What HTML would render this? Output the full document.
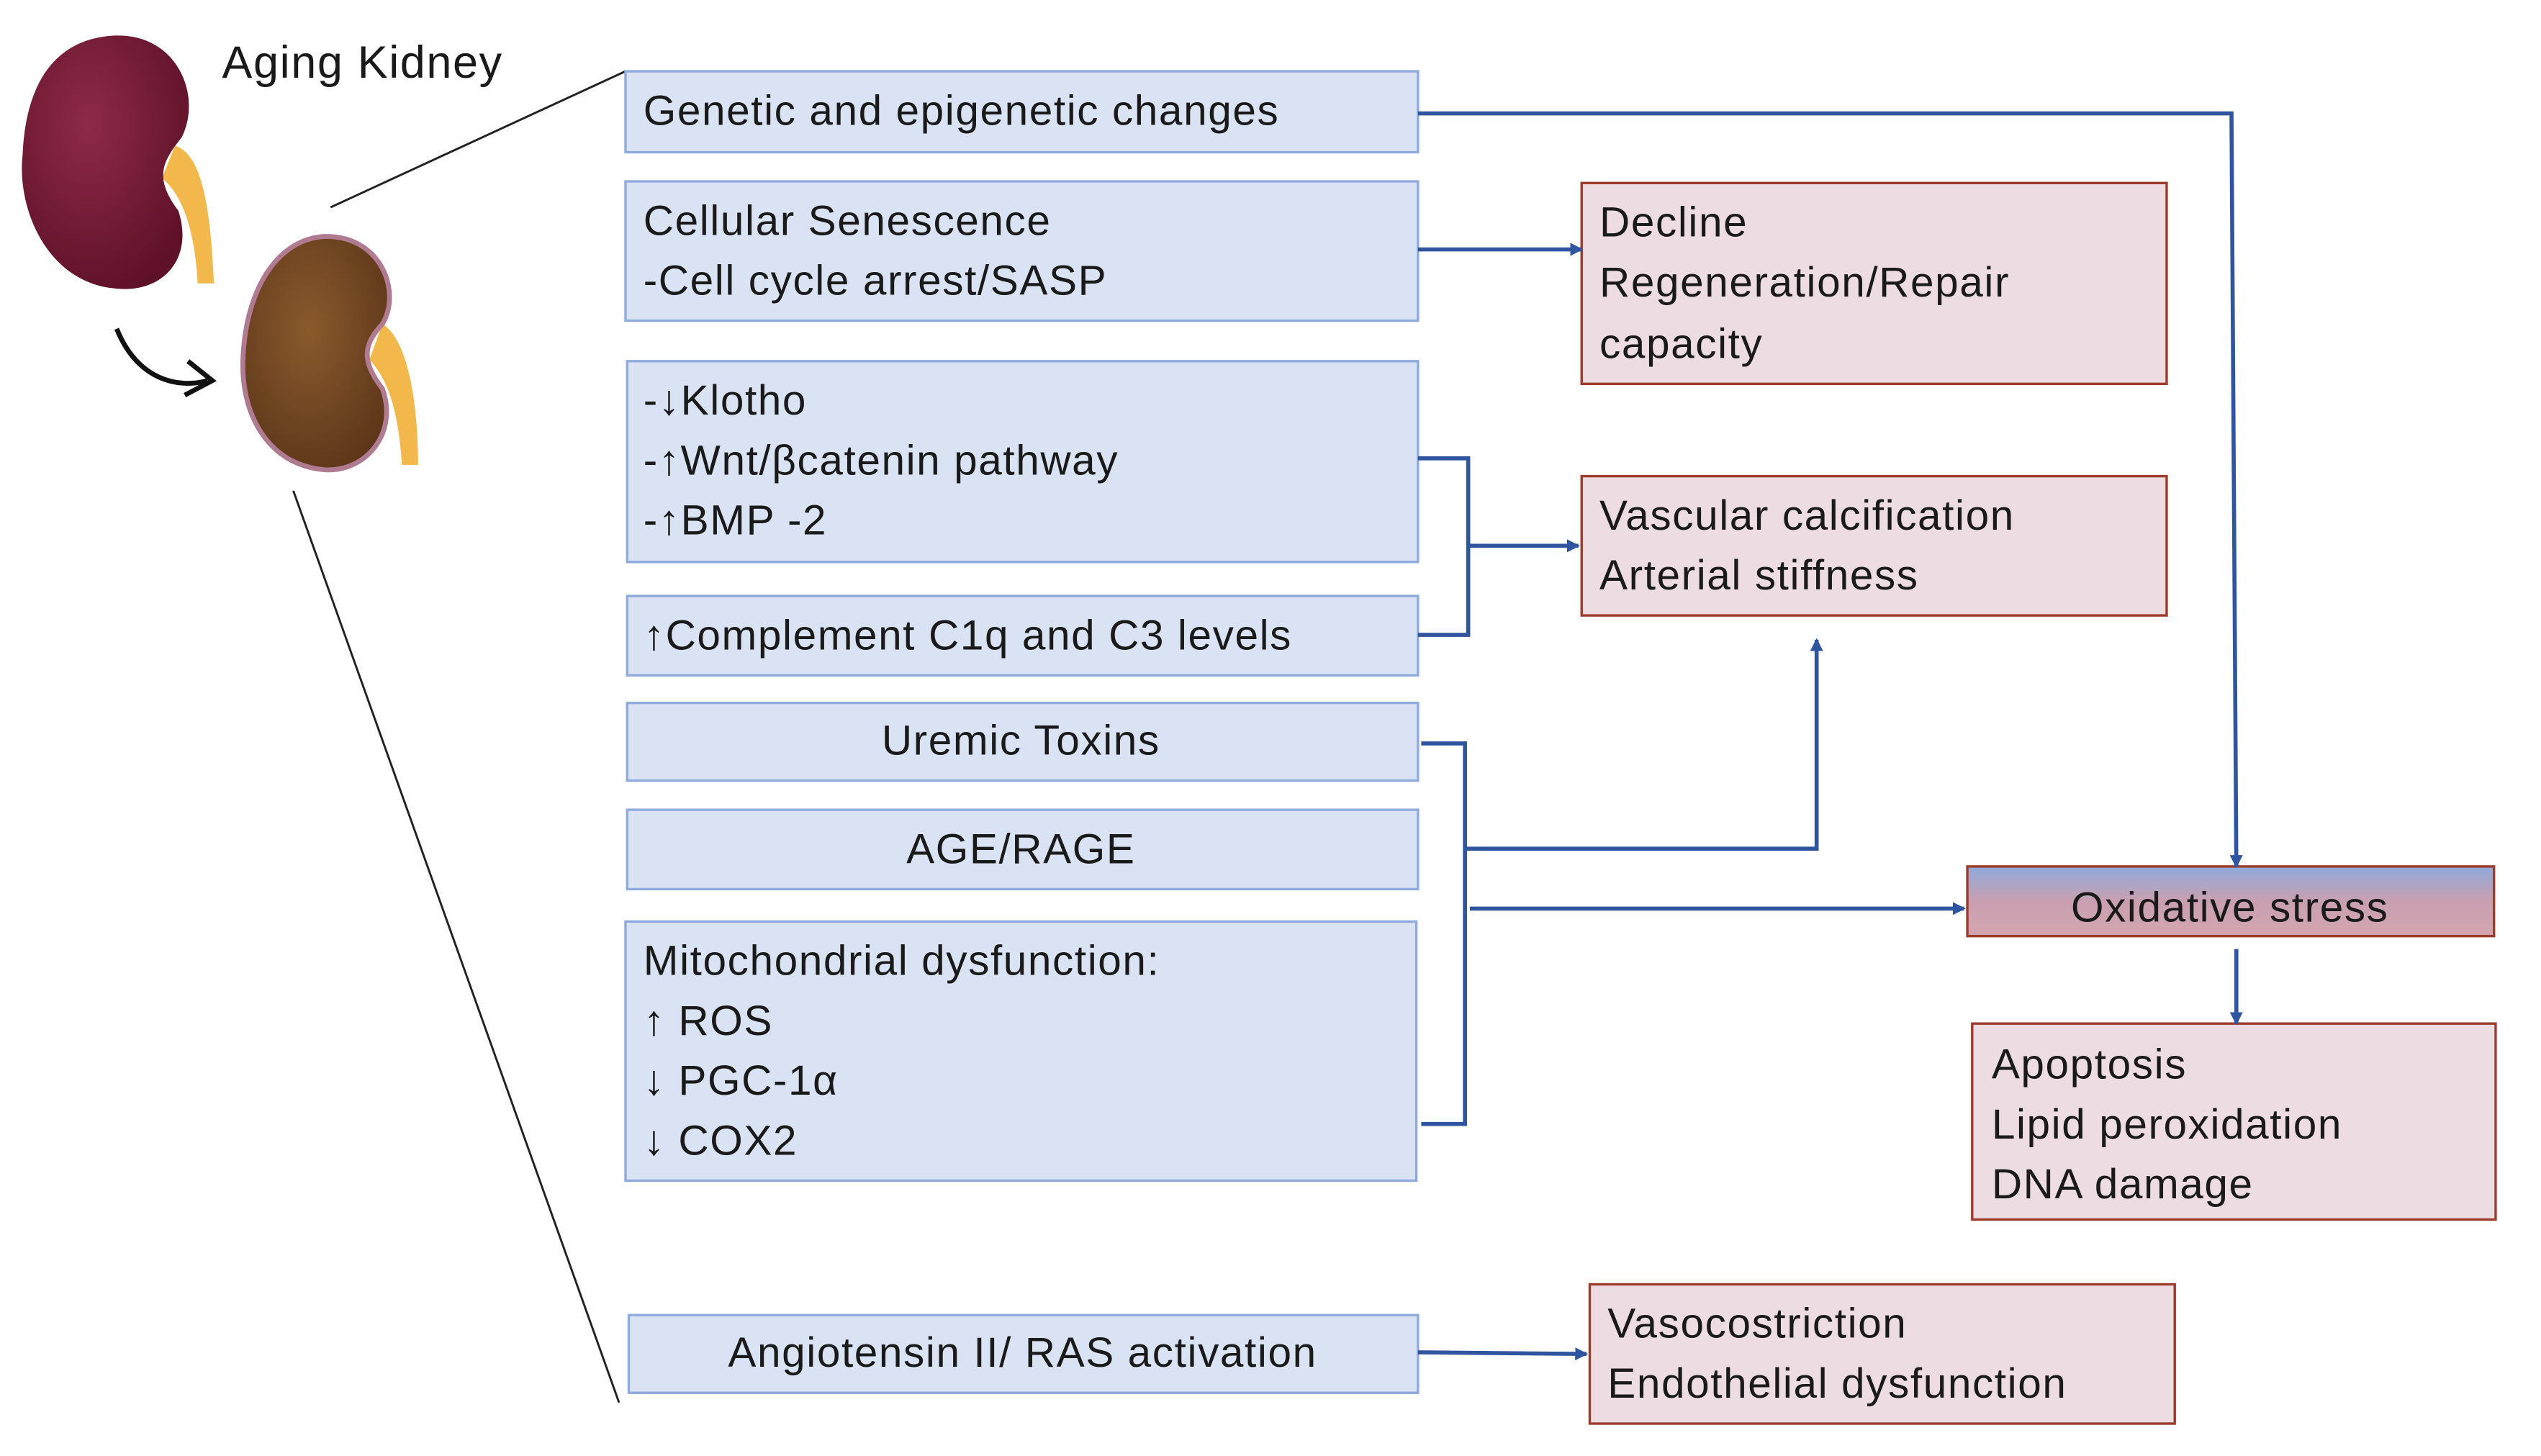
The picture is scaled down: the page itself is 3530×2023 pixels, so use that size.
<!DOCTYPE html>
<html><head><meta charset="utf-8"><style>
html,body{margin:0;padding:0;background:#fff;}
svg{display:block;}
text{font-family:"Liberation Sans",sans-serif;font-size:26px;fill:#1a1a1a;letter-spacing:0.7px;}
</style></head><body>
<svg width="3530" height="2023" viewBox="0 0 1568 899" preserveAspectRatio="none" xmlns="http://www.w3.org/2000/svg">
<defs>
<marker id="a" markerWidth="8" markerHeight="8" refX="7" refY="4" orient="auto" markerUnits="userSpaceOnUse">
<path d="M0,0 L8,4 L0,8 z" fill="#2f55a0"/></marker>
<linearGradient id="g" x1="0" y1="0" x2="0" y2="1">
<stop offset="0" stop-color="#8faadc"/><stop offset="0.5" stop-color="#c9a0b0"/><stop offset="1" stop-color="#d4a5b0"/></linearGradient>
<radialGradient id="k1" cx="0.4" cy="0.35" r="0.7"><stop offset="0" stop-color="#8e2a48"/><stop offset="1" stop-color="#5e1128"/></radialGradient>
<radialGradient id="k2" cx="0.45" cy="0.4" r="0.7"><stop offset="0" stop-color="#8a5a2c"/><stop offset="1" stop-color="#5a3418"/></radialGradient>
</defs>

<path d="M108,90 C125,95 130,130 132,175 L122,175 C120,140 112,120 100,110 Z" fill="#f2b84b"/>
<path d="M70,22 C110,20 125,60 112,85 C100,100 95,110 110,130 C120,160 100,182 70,178 C30,174 10,130 14,95 C16,50 35,24 70,22 Z" fill="url(#k1)"/>
<path d="M236,200 C252,210 258,250 258,287 L248,287 C246,255 240,235 228,222 Z" fill="#f2b84b"/>
<path d="M200,146 C235,145 248,180 236,200 C225,212 222,222 236,240 C246,268 225,292 200,290 C165,287 148,255 150,220 C152,180 170,148 200,146 Z" fill="url(#k2)" stroke="#b07a90" stroke-width="3"/>
<path d="M72,203 C85,235 110,240 128,235" fill="none" stroke="#111" stroke-width="3"/>
<path d="M116,223 L131,235 L114,244" fill="none" stroke="#111" stroke-width="3"/>
<text x="137" y="48" style="font-size:28px">Aging Kidney</text>
<line x1="204" y1="128" x2="386" y2="44" stroke="#222" stroke-width="1.3"/>
<line x1="181" y1="303" x2="382" y2="866" stroke="#222" stroke-width="1.3"/>

<g fill="#dae3f3" stroke="#8faadc" stroke-width="1.5">
<rect x="386" y="44" width="489" height="50"/>
<rect x="386" y="112" width="489" height="86"/>
<rect x="387" y="223" width="488" height="124"/>
<rect x="387" y="368" width="488" height="49"/>
<rect x="387" y="434" width="488" height="48"/>
<rect x="387" y="500" width="488" height="49"/>
<rect x="386" y="569" width="488" height="160"/>
<rect x="388" y="812" width="487" height="48"/>
</g>
<text x="397" y="77">Genetic and epigenetic changes</text>
<text x="397" y="145">Cellular Senescence</text>
<text x="397" y="182">-Cell cycle arrest/SASP</text>
<text x="397" y="256">-↓Klotho</text>
<text x="397" y="293">-↑Wnt/βcatenin pathway</text>
<text x="397" y="330">-↑BMP -2</text>
<text x="397" y="401">↑Complement C1q and C3 levels</text>
<text x="630" y="466" text-anchor="middle">Uremic Toxins</text>
<text x="630" y="533" text-anchor="middle">AGE/RAGE</text>
<text x="397" y="602">Mitochondrial dysfunction:</text>
<text x="397" y="639">↑ ROS</text>
<text x="397" y="676">↓ PGC-1α</text>
<text x="397" y="713">↓ COX2</text>
<text x="631" y="844" text-anchor="middle">Angiotensin II/ RAS activation</text>

<g fill="#eddce2" stroke="#9c3a2b" stroke-width="1.5">
<rect x="976" y="113" width="361" height="124"/>
<rect x="976" y="294" width="361" height="86"/>
<rect x="1217" y="632" width="323" height="121"/>
<rect x="981" y="793" width="361" height="86"/>
</g>
<rect x="1214" y="535" width="325" height="43" fill="url(#g)" stroke="#9c3a2b" stroke-width="1.5"/>
<text x="987" y="146">Decline</text>
<text x="987" y="183">Regeneration/Repair</text>
<text x="987" y="221">capacity</text>
<text x="987" y="327">Vascular calcification</text>
<text x="987" y="364">Arterial stiffness</text>
<text x="1376" y="569" text-anchor="middle">Oxidative stress</text>
<text x="1229" y="666">Apoptosis</text>
<text x="1229" y="703">Lipid peroxidation</text>
<text x="1229" y="740">DNA damage</text>
<text x="992" y="826">Vasocostriction</text>
<text x="992" y="863">Endothelial dysfunction</text>

<g fill="none" stroke="#2f55a0" stroke-width="2.5">
<path d="M875,70 L1377,70 L1380,535" marker-end="url(#a)"/>
<path d="M875,154 L976,154" marker-end="url(#a)"/>
<path d="M875,283 L906,283 L906,392 L875,392"/>
<path d="M906,337 L974,337" marker-end="url(#a)"/>
<path d="M877,459 L904,459 L904,694 L877,694"/>
<path d="M904,524 L1121,524 L1121,395" marker-end="url(#a)"/>
<path d="M907,561 L1212,561" marker-end="url(#a)"/>
<path d="M1380,586 L1380,632" marker-end="url(#a)"/>
<path d="M875,835 L979,836" marker-end="url(#a)"/>
</g>
</svg>
</body></html>
